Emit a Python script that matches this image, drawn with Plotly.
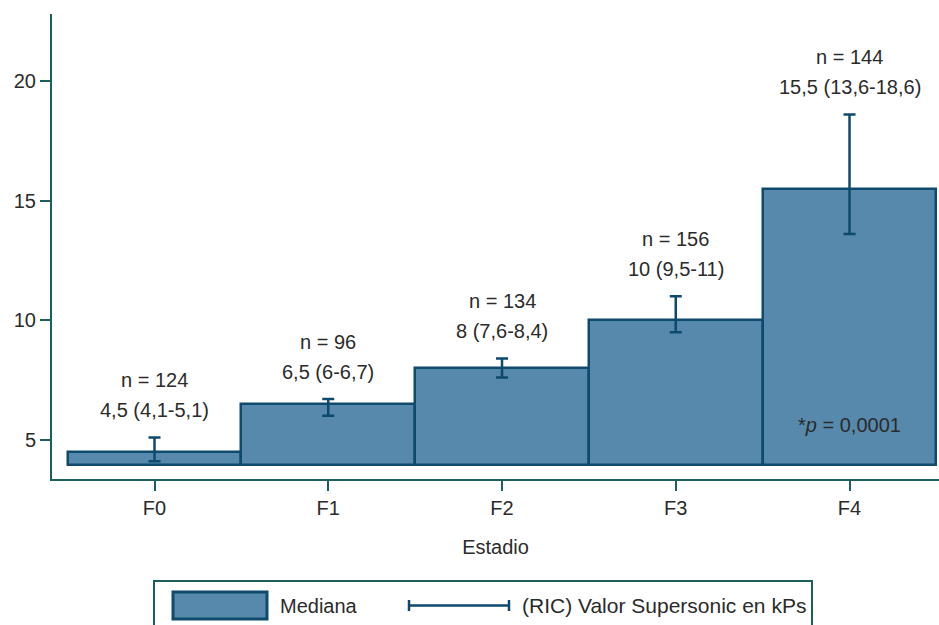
import plotly.graph_objects as go

# Stiffness (kPa) by fibrosis stage: median and interquartile range
stages = ["F0", "F1", "F2", "F3", "F4"]
n_patients = [124, 96, 134, 156, 144]
median = [4.5, 6.5, 8.0, 10.0, 15.5]
q1 = [4.1, 6.0, 7.6, 9.5, 13.6]
q3 = [5.1, 6.7, 8.4, 11.0, 18.6]
bar_base = 3.93
y_ticks = [5, 10, 15, 20]
p_text = "*<i>p</i> = 0,0001"

W, H = 939, 625
ML, MR, MT, MB = 52, 0, 14, 146

FILL = "#5689ab"
EDGE = "#0d4a6e"
AXIS = "#1d5f5e"
TEXT = "#2b2b2b"
FONT = "Liberation Sans, Arial, sans-serif"
FS = 20


def fmt(v):
    s = f"{v:g}"
    return s.replace(".", ",")


def px_x(p):
    return (p - ML) / (W - ML - MR)


def px_y(p):
    return (H - MB - p) / (H - MB - MT)


def tfont(size=FS):
    return dict(family=FONT, size=size, color=TEXT)


fig = go.Figure()

fig.add_trace(go.Bar(
    x=stages,
    y=[m - bar_base for m in median],
    base=bar_base,
    width=1.0,
    marker=dict(color=FILL, line=dict(color=EDGE, width=2.5)),
    hoverinfo="skip",
    showlegend=False,
))

fig.add_trace(go.Scatter(
    x=stages,
    y=median,
    mode="markers",
    marker=dict(size=1, opacity=0),
    error_y=dict(
        type="data",
        symmetric=False,
        array=[h - m for h, m in zip(q3, median)],
        arrayminus=[m - l for m, l in zip(median, q1)],
        color=EDGE,
        thickness=2.5,
        width=6,
    ),
    hoverinfo="skip",
    showlegend=False,
))

annotations = []
for s, n, m, lo, hi in zip(stages, n_patients, median, q1, q3):
    annotations.append(dict(
        x=s, y=hi, xref="x", yref="y",
        text=f"{fmt(m)} ({fmt(lo)}-{fmt(hi)})",
        showarrow=False, yanchor="middle", yshift=27,
        font=tfont(),
    ))
    annotations.append(dict(
        x=s, y=hi, xref="x", yref="y",
        text=f"n = {n}",
        showarrow=False, yanchor="middle", yshift=57,
        font=tfont(),
    ))

annotations.append(dict(
    x=stages[-1], y=5.6, xref="x", yref="y",
    text=p_text, showarrow=False,
    font=tfont(),
))

# Legend drawn as a framed box below the plot
shapes = [
    dict(type="rect", xref="paper", yref="paper",
         x0=px_x(154), x1=px_x(812), y0=px_y(581), y1=px_y(660),
         line=dict(color=AXIS, width=2), fillcolor="rgba(0,0,0,0)", layer="above"),
    dict(type="rect", xref="paper", yref="paper",
         x0=px_x(173), x1=px_x(267), y0=px_y(592), y1=px_y(619),
         line=dict(color=EDGE, width=3), fillcolor=FILL),
    dict(type="line", xref="paper", yref="paper",
         x0=px_x(409), x1=px_x(509), y0=px_y(605.5), y1=px_y(605.5),
         line=dict(color=EDGE, width=2.5)),
    dict(type="line", xref="paper", yref="paper",
         x0=px_x(409), x1=px_x(409), y0=px_y(600), y1=px_y(611),
         line=dict(color=EDGE, width=2.5)),
    dict(type="line", xref="paper", yref="paper",
         x0=px_x(509), x1=px_x(509), y0=px_y(600), y1=px_y(611),
         line=dict(color=EDGE, width=2.5)),
]
annotations.append(dict(
    x=px_x(278), y=px_y(605.5), xref="paper", yref="paper",
    text="Mediana", showarrow=False, xanchor="left", yanchor="middle",
    font=tfont(),
))
annotations.append(dict(
    x=px_x(520), y=px_y(605.5), xref="paper", yref="paper",
    text="(RIC) Valor Supersonic en kPs", showarrow=False,
    xanchor="left", yanchor="middle",
    font=tfont(21),
))

fig.update_layout(
    width=W, height=H,
    margin=dict(l=ML, r=MR, t=MT, b=MB),
    paper_bgcolor="white", plot_bgcolor="white",
    font=tfont(),
    bargap=0,
    annotations=annotations,
    shapes=shapes,
    showlegend=False,
)

fig.update_xaxes(
    range=[-0.59, 4.515],
    showline=True, linecolor=AXIS, linewidth=2,
    ticks="outside", ticklen=10, tickwidth=2, tickcolor=AXIS,
    showgrid=False, zeroline=False,
    tickfont=tfont(),
    title=dict(text="Estadio", standoff=22, font=tfont()),
)
fig.update_yaxes(
    range=[3.36, 22.8],
    tickvals=y_ticks,
    showline=True, linecolor=AXIS, linewidth=2,
    ticks="outside", ticklen=10, tickwidth=2, tickcolor=AXIS,
    showgrid=False, zeroline=False,
    tickfont=tfont(),
)

fig.write_html("out.html")
